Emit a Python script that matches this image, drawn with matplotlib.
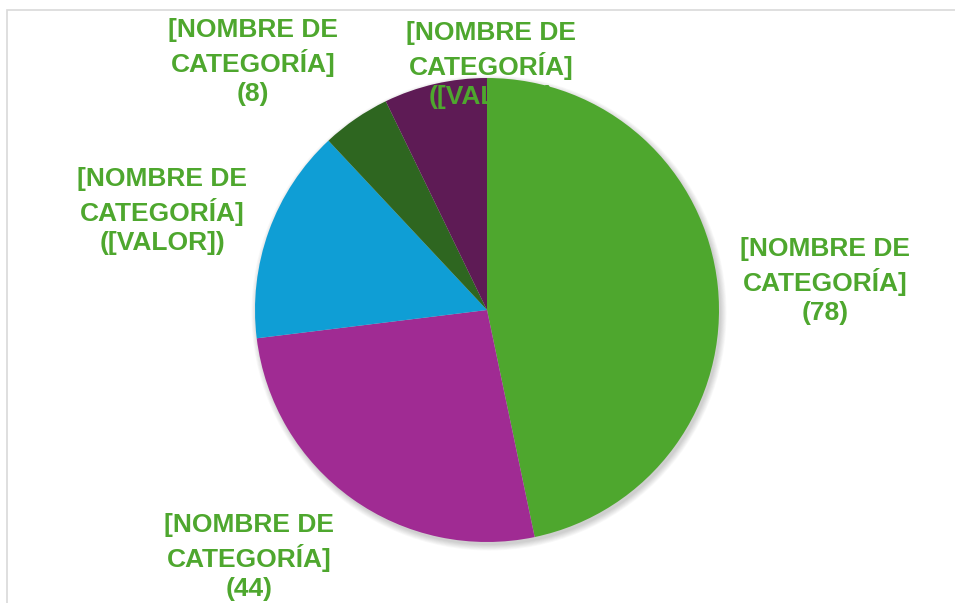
import numpy as np
import matplotlib.pyplot as plt
from matplotlib.patches import Rectangle, Circle

# data (clockwise from 12 o'clock)
values = [78, 44, 25, 8, 12]
colors = ["#4EA72E", "#A02B93", "#0F9ED5", "#2E6620", "#5E1B55"]
labels = ["[NOMBRE DE\nCATEGORÍA]\n(78)",
          "[NOMBRE DE\nCATEGORÍA]\n(44)",
          "[NOMBRE DE\nCATEGORÍA]\n([VALOR])",
          "[NOMBRE DE\nCATEGORÍA]\n(8)",
          "[NOMBRE DE\nCATEGORÍA]\n([VALOR])"]
# label centres in pixel coords (x, y from top)
label_pos = [(825, 281), (249, 557), (162, 211), (253, 62), (491, 65)]

W, H = 955, 603
fig = plt.figure(figsize=(W / 100, H / 100), dpi=100)
ax = fig.add_axes([0, 0, 1, 1])
ax.set_xlim(0, W)
ax.set_ylim(0, H)
ax.set_aspect("equal")
ax.axis("off")

# chart frame
ax.add_patch(Rectangle((7, -10), W + 20, H - 10 + 10, fill=False,
                       edgecolor="#D9D9D9", linewidth=1.2, zorder=0))

cx, cy, r = 487, H - 310, 232

# soft shadow
for k in range(8):
    ax.add_patch(Circle((cx + 2, cy - 3), r + k * 0.8, color="black",
                        alpha=0.025, lw=0, zorder=0.5))

wedges, _ = ax.pie(values, colors=colors, startangle=90, counterclock=False,
                   center=(cx, cy), radius=r, frame=True,
                   wedgeprops=dict(linewidth=0))
ax.set_xlim(0, W)
ax.set_ylim(0, H)
ax.axis("off")

for txt, (x, y) in zip(labels, label_pos):
    ax.text(x, H - y, txt, ha="center", va="center", fontsize=19,
            fontweight="bold", color="#4EA72E", family="Liberation Sans",
            linespacing=1.3, zorder=5)

fig.savefig("out.png", dpi=100)
